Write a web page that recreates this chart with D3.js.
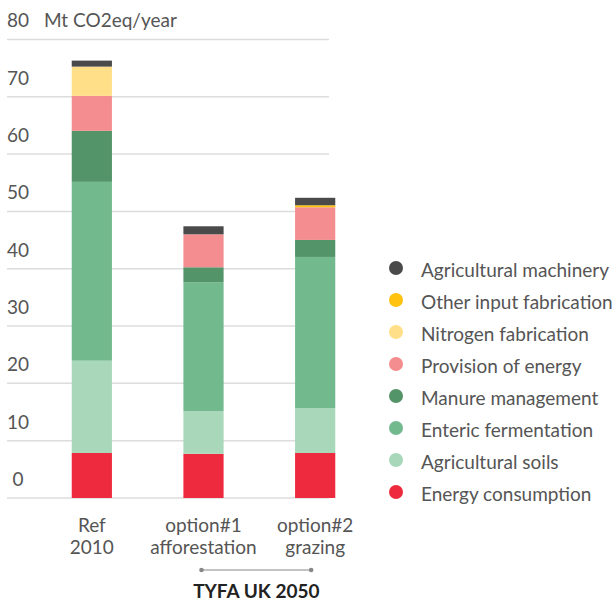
<!DOCTYPE html>
<html><head><meta charset="utf-8">
<script src="https://cdn.jsdelivr.net/npm/d3@7"></script>
<style>body{margin:0;background:#fff}svg{display:block}text{font-family:Lato,"Open Sans",sans-serif}</style>
</head><body><svg id="c" width="614" height="601"></svg>
<script>
const categories = [["Ref","2010"],["option#1","afforestation"],["option#2","grazing"]];
const seriesNames = ["Energy consumption","Agricultural soils","Enteric fermentation","Manure management","Provision of energy","Nitrogen fabrication","Other input fabrication","Agricultural machinery"];
const seriesColors = ["#ee2a3e","#a8d8b9","#73b98e","#539468","#f48d8f","#ffdf88","#ffc20e","#4a4a4a"];
const energyConsumption   = [7.85, 7.7, 7.85];
const agriculturalSoils   = [16.1, 7.45, 7.85];
const entericFermentation = [31.2, 22.5, 26.35];
const manureManagement    = [8.9, 2.6, 2.97];
const provisionOfEnergy   = [6.1, 5.75, 5.7];
const nitrogenFabrication = [5.1, 0, 0];
const otherInput          = [0, 0, 0.35];
const agriMachinery       = [1.05, 1.4, 1.3];
const yTicks = [0,10,20,30,40,50,60,70,80];
const unitLabel = "Mt CO2eq/year";
const groupLabel = "TYFA UK 2050";

const seriesValues = [energyConsumption, agriculturalSoils, entericFermentation, manureManagement, provisionOfEnergy, nitrogenFabrication, otherInput, agriMachinery];
const rows = categories.map((c,i)=>{const r={cat:i}; seriesNames.forEach((s,j)=>r[s]=seriesValues[j][i]); return r;});
const stack = d3.stack().keys(seriesNames)(rows);

const svg = d3.select("#c");
const y = d3.scaleLinear().domain([0,80]).range([498,39.4]);
const x = d3.scaleBand().domain([0,1,2]).range([36,371]).paddingInner(0.64).paddingOuter(0.32);
const FS = 19;

// gridlines
svg.append("g").selectAll("line").data(yTicks).join("line")
  .attr("x1",7).attr("x2",329).attr("y1",d=>y(d)).attr("y2",d=>y(d))
  .attr("stroke","#dcdcdc").attr("stroke-width",1.5);
svg.append("g").selectAll("text").data(yTicks).join("text")
  .attr("x",18).attr("y",d=>y(d)-12).attr("text-anchor","middle")
  .attr("font-size",FS).attr("fill","#555").text(d=>d);
svg.append("text").attr("x",44).attr("y",y(80)-12).attr("font-size",FS).attr("fill","#555").text(unitLabel);

// bars
svg.append("g").selectAll("g").data(stack).join("g").attr("fill",(d,i)=>seriesColors[i])
  .selectAll("rect").data(d=>d).join("rect")
  .attr("x",d=>x(d.data.cat)).attr("width",x.bandwidth())
  .attr("y",d=>y(d[1])).attr("height",d=>Math.max(0,y(d[0])-y(d[1])));

// x labels
const xl = svg.append("g").selectAll("text").data(categories).join("text")
  .attr("text-anchor","middle").attr("font-size",FS).attr("fill","#555");
xl.append("tspan").attr("x",(d,i)=>x(i)+x.bandwidth()/2).attr("y",532).text(d=>d[0]);
xl.append("tspan").attr("x",(d,i)=>x(i)+x.bandwidth()/2).attr("y",554).text(d=>d[1]);

// bracket
const bx1 = x(1)+x.bandwidth()/2-2, bx2 = x(2)+x.bandwidth()/2-4;
svg.append("line").attr("x1",bx1).attr("x2",bx2).attr("y1",570).attr("y2",570).attr("stroke","#888").attr("stroke-width",1.2);
svg.selectAll("circle.b").data([bx1,bx2]).join("circle").attr("class","b").attr("cx",d=>d).attr("cy",570).attr("r",2.3).attr("fill","#888");
svg.append("text").attr("x",(bx1+bx2)/2).attr("y",598).attr("text-anchor","middle").attr("font-size",19).attr("font-weight","bold").attr("fill","#222").text(groupLabel);

// legend
const legendOrder = seriesNames.map((s,i)=>i).reverse();
const lg = svg.append("g").selectAll("g").data(legendOrder).join("g")
  .attr("transform",(d,k)=>`translate(396,${268+k*32})`);
lg.append("circle").attr("r",7).attr("fill",d=>seriesColors[d]);
lg.append("text").attr("x",25).attr("y",9).attr("font-size",FS).attr("fill","#555").text(d=>seriesNames[d]);
</script></body></html>
